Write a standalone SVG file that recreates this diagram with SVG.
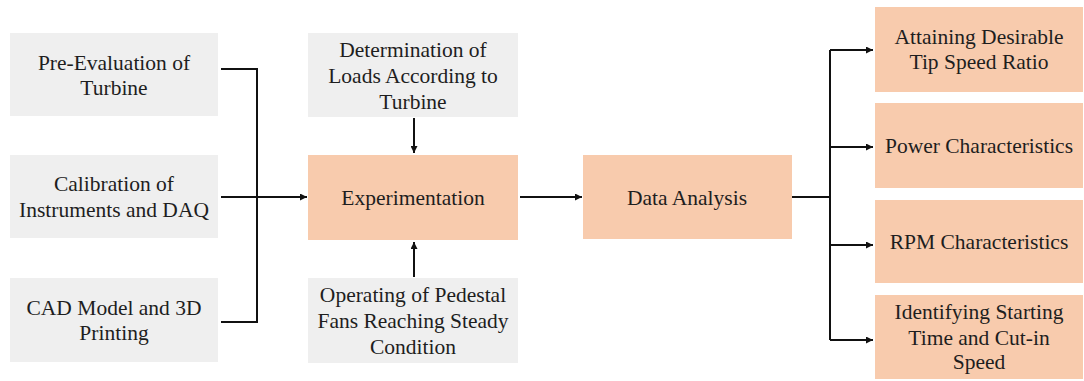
<svg xmlns="http://www.w3.org/2000/svg" width="1084" height="381" viewBox="0 0 1084 381">
<style>
.g{fill:#efefef}
.o{fill:#f8cbad}
text{font-family:"Liberation Serif","Times New Roman",serif;font-size:21.5px;fill:#1e1e1e;text-anchor:middle}
.c{fill:none;stroke:#111;stroke-width:2}
</style>
<defs>
<marker id="ah" viewBox="0 0 10 10" refX="10" refY="5" markerWidth="7" markerHeight="7" markerUnits="userSpaceOnUse" orient="auto">
<path d="M0,0 L10,5 L0,10 z" fill="#111"/>
</marker>
</defs>
<rect width="1084" height="381" fill="#fff"/>
<g id="n1"><rect class="g" x="10" y="33" width="208" height="83"/><text x="114" y="70">Pre-Evaluation of</text><text x="114" y="95">Turbine</text></g>
<g id="n2"><rect class="g" x="10" y="155" width="208" height="83"/><text x="114" y="191">Calibration of</text><text x="114" y="217">Instruments and DAQ</text></g>
<g id="n3"><rect class="g" x="10" y="278" width="208" height="84"/><text x="114" y="315">CAD Model and 3D</text><text x="114" y="340">Printing</text></g>
<g id="n4"><rect class="g" x="308" y="33" width="210" height="84"/><text x="413" y="57">Determination of</text><text x="413" y="83">Loads According to</text><text x="413" y="109">Turbine</text></g>
<g id="n5"><rect class="o" x="308" y="155" width="210" height="85"/><text x="413" y="205">Experimentation</text></g>
<g id="n6"><rect class="g" x="308" y="278" width="210" height="85"/><text x="413" y="302">Operating of Pedestal</text><text x="413" y="328">Fans Reaching Steady</text><text x="413" y="354">Condition</text></g>
<g id="n7"><rect class="o" x="583" y="155" width="209" height="84"/><text x="687" y="205">Data Analysis</text></g>
<g id="n8"><rect class="o" x="875" y="7" width="208" height="85"/><text x="979" y="44">Attaining Desirable</text><text x="979" y="69">Tip Speed Ratio</text></g>
<g id="n9"><rect class="o" x="875" y="103" width="208" height="85"/><text x="979" y="153">Power Characteristics</text></g>
<g id="n10"><rect class="o" x="875" y="200" width="208" height="83"/><text x="979" y="249">RPM Characteristics</text></g>
<g id="n11"><rect class="o" x="875" y="295" width="208" height="84"/><text x="979" y="319">Identifying Starting</text><text x="979" y="345">Time and Cut-in</text><text x="979" y="369">Speed</text></g>
<g id="connectors">
<path class="c" d="M221,69 H257 V322 H221"/>
<path class="c" d="M221,197 H307" marker-end="url(#ah)"/>
<path class="c" d="M414,118 V153" marker-end="url(#ah)"/>
<path class="c" d="M414,277 V242" marker-end="url(#ah)"/>
<path class="c" d="M520,197 H582" marker-end="url(#ah)"/>
<path class="c" d="M792,197 H830"/>
<path class="c" d="M830,50 V340"/>
<path class="c" d="M830,50 H873" marker-end="url(#ah)"/>
<path class="c" d="M830,147 H873" marker-end="url(#ah)"/>
<path class="c" d="M830,245 H873" marker-end="url(#ah)"/>
<path class="c" d="M830,340 H873" marker-end="url(#ah)"/>
</g>
</svg>
